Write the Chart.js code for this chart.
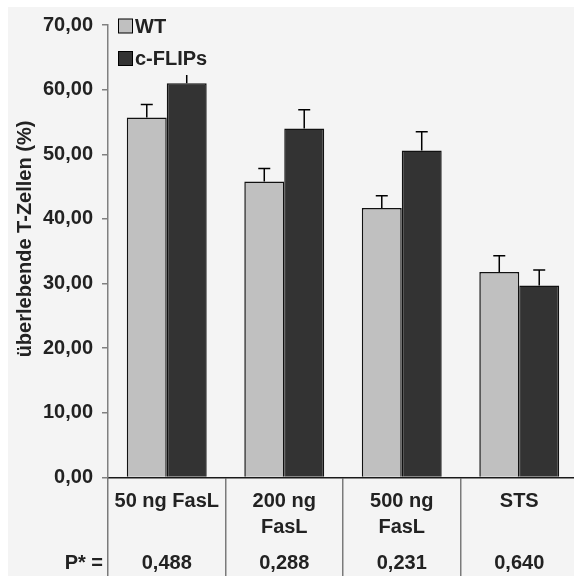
<!DOCTYPE html>
<html><head><meta charset="utf-8">
<script src="https://cdn.jsdelivr.net/npm/chart.js@4.4.0/dist/chart.umd.min.js"></script>
<style>html,body{margin:0;padding:0;background:#fff;overflow:hidden;}
#wrap{position:absolute;left:0;top:0;width:584px;height:576px;}</style>
</head><body><div id="wrap"><canvas id="c"></canvas></div>
<script>
const categories = [["50 ng FasL"], ["200 ng", "FasL"], ["500 ng", "FasL"], ["STS"]];
const seriesNames = ["WT", "c-FLIPs"];
const wtValues = [55.7, 45.8, 41.7, 31.8];
const wtErrors = [2.0, 2.0, 1.9, 2.5];
const flipValues = [61.0, 54.0, 50.6, 29.7];
const flipErrors = [1.9, 2.9, 2.9, 2.4];
const pLabel = "P* =";
const pValues = ["0,488", "0,288", "0,231", "0,640"];
const yMin = 0, yMax = 70, yStep = 10;
const yTitle = "überlebende T-Zellen (%)";

const FONT = "'Liberation Sans', Arial, sans-serif";
const TXT = "#222";
const errors = [wtErrors, flipErrors];

const bgPlugin = {
  id: 'bg',
  beforeDraw(chart) {
    const ctx = chart.ctx;
    ctx.save();
    ctx.fillStyle = '#f4f4f4';
    ctx.fillRect(8, 7, chart.width - 8, chart.height - 7);
    ctx.restore();
  }
};

const errPlugin = {
  id: 'err',
  afterDatasetsDraw(chart) {
    const ctx = chart.ctx;
    const ys = chart.scales.y;
    ctx.save();
    ctx.strokeStyle = '#000';
    ctx.lineWidth = 1.5;
    chart.data.datasets.forEach((ds, di) => {
      const meta = chart.getDatasetMeta(di);
      meta.data.forEach((bar, i) => {
        const top = ys.getPixelForValue(ds.data[i] + errors[di][i]);
        ctx.beginPath();
        ctx.moveTo(bar.x, bar.y);
        ctx.lineTo(bar.x, top);
        ctx.moveTo(bar.x - 6, top);
        ctx.lineTo(bar.x + 6, top);
        ctx.stroke();
      });
    });
    ctx.restore();
  }
};

const extraPlugin = {
  id: 'extra',
  afterDraw(chart) {
    const ctx = chart.ctx;
    const xs = chart.scales.x;
    ctx.save();
    // legend frame (covers the plot like the original legend)
    ctx.fillStyle = '#f4f4f4';
    ctx.fillRect(113, 12, 100, 63);
    ctx.font = "bold 20px " + FONT;
    ctx.textBaseline = 'middle';
    ctx.textAlign = 'left';
    chart.data.datasets.forEach((ds, i) => {
      const yc = 26 + i * 32.5;
      ctx.fillStyle = ds.backgroundColor;
      ctx.fillRect(118.5, yc - 7, 14, 14);
      ctx.strokeStyle = '#000';
      ctx.lineWidth = 1;
      ctx.strokeRect(118.5, yc - 7, 14, 14);
      ctx.fillStyle = TXT;
      ctx.fillText(ds.label, 135, yc + 1);
    });
    // P-value row
    ctx.textAlign = 'right';
    ctx.fillText(pLabel, 103, 563);
    ctx.textAlign = 'center';
    pValues.forEach((p, i) => {
      ctx.fillText(p, xs.getPixelForValue(i), 563);
    });
    // y axis title
    ctx.save();
    ctx.translate(25, 239);
    ctx.rotate(-Math.PI / 2);
    ctx.font = "bold 20px " + FONT;
    ctx.fillText(yTitle, 0, 0);
    ctx.restore();
    ctx.restore();
  }
};

new Chart(document.getElementById('c'), {
  type: 'bar',
  data: {
    labels: categories,
    datasets: [
      { label: seriesNames[0], data: wtValues, backgroundColor: '#c0c0c0', borderColor: '#111', borderWidth: 1.5 },
      { label: seriesNames[1], data: flipValues, backgroundColor: '#333333', borderColor: '#111', borderWidth: 1.5 }
    ]
  },
  options: {
    responsive: true,
    maintainAspectRatio: false,
    animation: false,
    devicePixelRatio: 1,
    layout: { padding: { top: 25, right: 6, bottom: 0, left: 0 } },
    datasets: { bar: { categoryPercentage: 0.68, barPercentage: 1.0 } },
    plugins: { legend: { display: false }, tooltip: { enabled: false } },
    scales: {
      x: {
        grid: { offset: true, drawOnChartArea: false, tickLength: 99, color: '#7a7a7a', lineWidth: 1.5 },
        border: { color: '#1a1a1a', width: 1.5 },
        ticks: { color: TXT, font: { family: FONT, size: 20, weight: 'bold', lineHeight: 1.3 }, padding: -88, maxRotation: 0, autoSkip: false },
        afterFit(scale) { scale.height = 98.5; }
      },
      y: {
        min: yMin, max: yMax,
        grid: { drawOnChartArea: false, tickLength: 6, color: '#808080', lineWidth: 1.5 },
        border: { color: '#808080', width: 1.5 },
        ticks: {
          stepSize: yStep, color: TXT, padding: 9,
          font: { family: FONT, size: 20, weight: 'bold' },
          callback: v => v.toFixed(2).replace('.', ',')
        },
        afterFit(scale) { scale.width = 108; }
      }
    }
  },
  plugins: [bgPlugin, errPlugin, extraPlugin]
});
</script></body></html>
